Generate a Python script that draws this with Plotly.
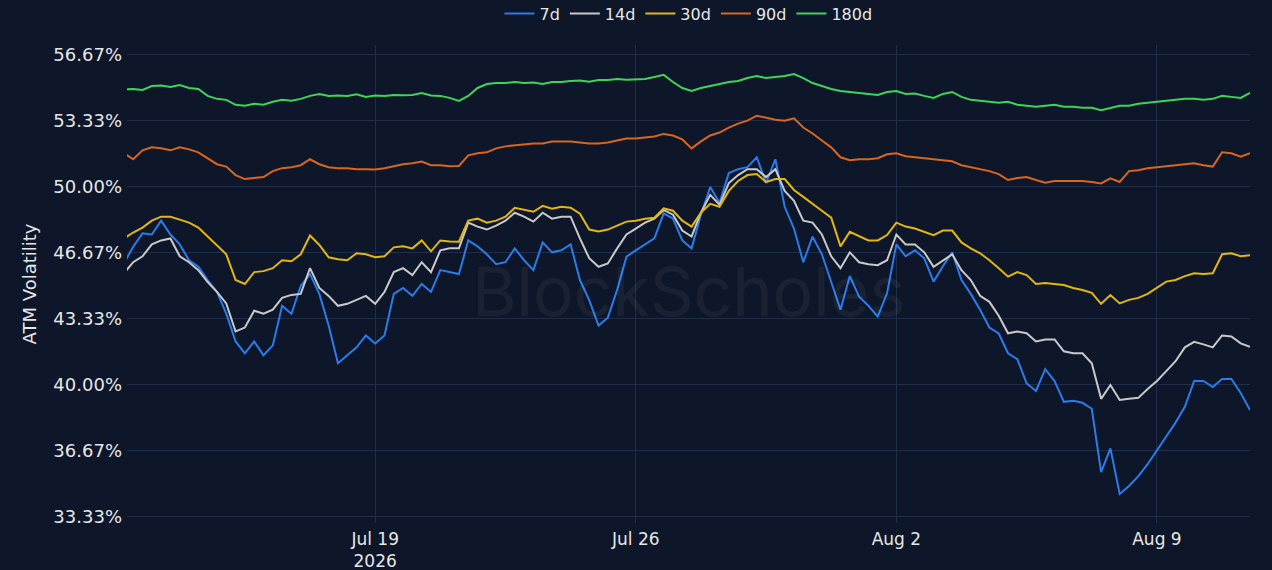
import pandas as pd
import plotly.graph_objects as go

# 6-hourly ATM vol readings, 12 Jul 06:00 -> 11 Aug 12:00
times = pd.date_range("2026-07-12 06:00", periods=122, freq="6h")

vol_7d = [
    46.14, 46.98, 47.66, 47.6, 48.3, 47.6, 47.1, 46.3, 45.97, 45.3,
    44.7, 43.6, 42.2, 41.6, 42.2, 41.5, 42.0, 44.0, 43.6, 45.0,
    45.6, 44.6, 43.0, 41.1, 41.5, 41.9, 42.5, 42.1, 42.5, 44.6,
    44.9, 44.5, 45.1, 44.7, 45.8, 45.7, 45.6, 47.3, 47.0, 46.6,
    46.1, 46.2, 46.9, 46.3, 45.8, 47.2, 46.7, 46.8, 47.1, 45.3,
    44.29, 43.0, 43.4, 44.8, 46.48, 46.8, 47.1, 47.4, 48.67, 48.4,
    47.3, 46.9, 48.6, 50.0, 49.2, 50.7, 50.9, 51.0, 51.5, 50.2,
    51.4, 49.0, 47.9, 46.2, 47.49, 46.6, 45.2, 43.8, 45.5, 44.46,
    44.0, 43.45, 44.63, 47.1, 46.5, 46.8, 46.4, 45.22, 46.0, 46.7,
    45.3, 44.6, 43.8, 42.9, 42.6, 41.6, 41.3, 40.08, 39.7, 40.8,
    40.2, 39.15, 39.2, 39.1, 38.8, 35.6, 36.8, 34.5, 34.9, 35.4,
    36.0, 36.7, 37.4, 38.1, 38.9, 40.2, 40.2, 39.9, 40.3, 40.3,
    39.6, 38.73,
]

vol_14d = [
    45.64, 46.2, 46.5, 47.1, 47.3, 47.4, 46.5, 46.2, 45.8, 45.2,
    44.7, 44.12, 42.7, 42.9, 43.75, 43.6, 43.8, 44.4, 44.55, 44.6,
    45.9, 44.9, 44.5, 44.0, 44.1, 44.3, 44.5, 44.1, 44.7, 45.7,
    45.9, 45.55, 46.2, 45.7, 46.8, 46.9, 46.9, 48.2, 48.0, 47.85,
    48.05, 48.3, 48.7, 48.5, 48.25, 48.7, 48.4, 48.5, 48.5, 47.4,
    46.4, 45.97, 46.14, 46.9, 47.6, 47.9, 48.2, 48.4, 48.84, 48.6,
    47.8, 47.5, 48.7, 49.6, 49.1, 50.2, 50.6, 50.9, 50.9, 50.5,
    50.9, 49.8, 49.3, 48.3, 48.2, 47.6, 46.5, 45.9, 46.7, 46.2,
    46.1, 46.05, 46.3, 47.6, 47.1, 47.1, 46.7, 45.97, 46.3, 46.6,
    45.8, 45.3, 44.5, 44.2, 43.5, 42.61, 42.7, 42.61, 42.2, 42.3,
    42.3, 41.7, 41.6, 41.6, 41.1, 39.3, 40.0, 39.24, 39.3, 39.35,
    39.8, 40.2, 40.7, 41.2, 41.9, 42.18, 42.05, 41.9, 42.5, 42.45,
    42.1, 41.93,
]

vol_30d = [
    47.4, 47.7, 47.95, 48.3, 48.5, 48.5, 48.35, 48.2, 47.95, 47.5,
    47.05, 46.6, 45.3, 45.1, 45.7, 45.75, 45.9, 46.3, 46.25, 46.6,
    47.55, 47.07, 46.45, 46.35, 46.3, 46.65, 46.6, 46.45, 46.5, 46.95,
    47.0, 46.9, 47.3, 46.75, 47.3, 47.25, 47.24, 48.3, 48.4, 48.2,
    48.3, 48.5, 48.95, 48.85, 48.75, 49.05, 48.9, 49.0, 48.95, 48.65,
    47.85, 47.75, 47.85, 48.05, 48.25, 48.3, 48.4, 48.45, 48.92, 48.8,
    48.3, 48.0, 48.7, 49.15, 49.0, 49.8, 50.3, 50.6, 50.65, 50.25,
    50.4, 50.4, 49.85, 49.5, 49.17, 48.8, 48.45, 47.0, 47.74, 47.5,
    47.3, 47.3, 47.57, 48.2, 48.0, 47.9, 47.75, 47.57, 47.8, 47.8,
    47.2, 46.9, 46.65, 46.3, 45.9, 45.47, 45.7, 45.55, 45.1, 45.15,
    45.1, 45.05, 44.9, 44.8, 44.65, 44.1, 44.54, 44.12, 44.3, 44.4,
    44.6, 44.9, 45.22, 45.3, 45.5, 45.64, 45.6, 45.64, 46.6, 46.65,
    46.5, 46.55,
]

vol_90d = [
    51.7, 51.4, 51.85, 52.0, 51.95, 51.85, 52.0, 51.9, 51.75, 51.45,
    51.15, 51.03, 50.6, 50.4, 50.45, 50.5, 50.8, 50.95, 51.0, 51.1,
    51.4, 51.15, 51.0, 50.95, 50.95, 50.9, 50.9, 50.88, 50.95, 51.05,
    51.15, 51.2, 51.28, 51.1, 51.1, 51.05, 51.06, 51.6, 51.7, 51.75,
    51.95, 52.05, 52.1, 52.15, 52.2, 52.2, 52.3, 52.3, 52.3, 52.25,
    52.2, 52.2, 52.25, 52.35, 52.45, 52.45, 52.5, 52.55, 52.68, 52.6,
    52.4, 51.95, 52.3, 52.6, 52.75, 53.0, 53.2, 53.35, 53.6, 53.5,
    53.4, 53.35, 53.47, 53.0, 52.7, 52.35, 52.0, 51.5, 51.35, 51.4,
    51.4, 51.45, 51.65, 51.7, 51.55, 51.5, 51.45, 51.4, 51.38, 51.3,
    51.1, 51.0, 50.9, 50.8, 50.65, 50.35, 50.45, 50.5, 50.35, 50.22,
    50.3, 50.3, 50.32, 50.3, 50.25, 50.18, 50.44, 50.25, 50.8, 50.85,
    50.95, 51.0, 51.05, 51.1, 51.15, 51.2, 51.1, 51.03, 51.75, 51.7,
    51.53, 51.7,
]

vol_180d = [
    54.93, 54.95, 54.9, 55.1, 55.12, 55.05, 55.15, 55.0, 54.95, 54.6,
    54.45, 54.4, 54.15, 54.1, 54.2, 54.15, 54.3, 54.4, 54.35, 54.45,
    54.6, 54.7, 54.6, 54.62, 54.6, 54.68, 54.55, 54.62, 54.6, 54.65,
    54.63, 54.65, 54.75, 54.62, 54.6, 54.5, 54.35, 54.6, 55.0, 55.2,
    55.25, 55.25, 55.3, 55.25, 55.28, 55.2, 55.3, 55.3, 55.35, 55.38,
    55.32, 55.4, 55.4, 55.45, 55.42, 55.45, 55.45, 55.55, 55.66, 55.3,
    55.0, 54.85, 55.0, 55.1, 55.2, 55.3, 55.35, 55.5, 55.6, 55.5,
    55.55, 55.6, 55.7, 55.5, 55.25, 55.1, 54.95, 54.85, 54.8, 54.75,
    54.7, 54.65, 54.8, 54.85, 54.7, 54.72, 54.6, 54.5, 54.7, 54.8,
    54.55, 54.4, 54.35, 54.3, 54.25, 54.3, 54.15, 54.1, 54.05, 54.1,
    54.15, 54.05, 54.05, 54.0, 54.0, 53.88, 54.0, 54.1, 54.1, 54.2,
    54.25, 54.3, 54.35, 54.4, 54.45, 54.45, 54.4, 54.45, 54.6, 54.55,
    54.5, 54.75,
]

series_names = ["7d", "14d", "30d", "90d", "180d"]
series_vals = [vol_7d, vol_14d, vol_30d, vol_90d, vol_180d]
colors = ["#2b7bea", "#c9c9c9", "#e3b70f", "#d9661c", "#3ed45a"]

y_ticks = [100 / 3, 110 / 3, 40.0, 130 / 3, 140 / 3, 50.0, 160 / 3, 170 / 3]
y_labels = ["%.2f%%" % v for v in y_ticks]

bg = "#0e1629"
grid = "#1f2d48"

fig = go.Figure()
for name, vals, col in zip(series_names, series_vals, colors):
    fig.add_trace(go.Scatter(x=times, y=vals, name=name, mode="lines",
                             line=dict(color=col, width=2)))

# faint watermark
fig.add_annotation(text="BlockScholes", xref="paper", yref="paper",
                   x=0.5, y=0.485, showarrow=False,
                   font=dict(size=68, color="rgba(255,255,255,0.05)",
                             family="Inter"))

fig.update_layout(
    width=1272, height=570,
    paper_bgcolor=bg, plot_bgcolor=bg,
    font=dict(family="DejaVu Sans", color="#e6e6e6", size=17),
    margin=dict(l=127, r=22, t=45, b=47, autoexpand=False),
    showlegend=True,
    legend=dict(orientation="h", x=0.5, xanchor="center", y=1.03,
                yanchor="bottom", font=dict(size=16), bgcolor="rgba(0,0,0,0)"),
)
fig.update_xaxes(
    range=["2026-07-12 08:00", "2026-08-11 12:00"],
    tick0="2026-07-19", dtick=7 * 86400000,
    showgrid=True, gridcolor=grid, zeroline=False, showline=False,
    tickfont=dict(size=17), ticklabelstandoff=4, automargin=False,
)
fig.update_yaxes(
    range=[33.03, 57.17], tickvals=y_ticks, ticktext=y_labels,
    showgrid=True, gridcolor=grid, zeroline=False, showline=False,
    title=dict(text="ATM Volatility", font=dict(size=18), standoff=12),
    tickfont=dict(size=18), ticklabelstandoff=4, automargin=False,
)

# page margin off so the dark figure fills the window
fig.write_html("out.html", config={"displayModeBar": False},
               post_script="document.body.style.margin='0';")
